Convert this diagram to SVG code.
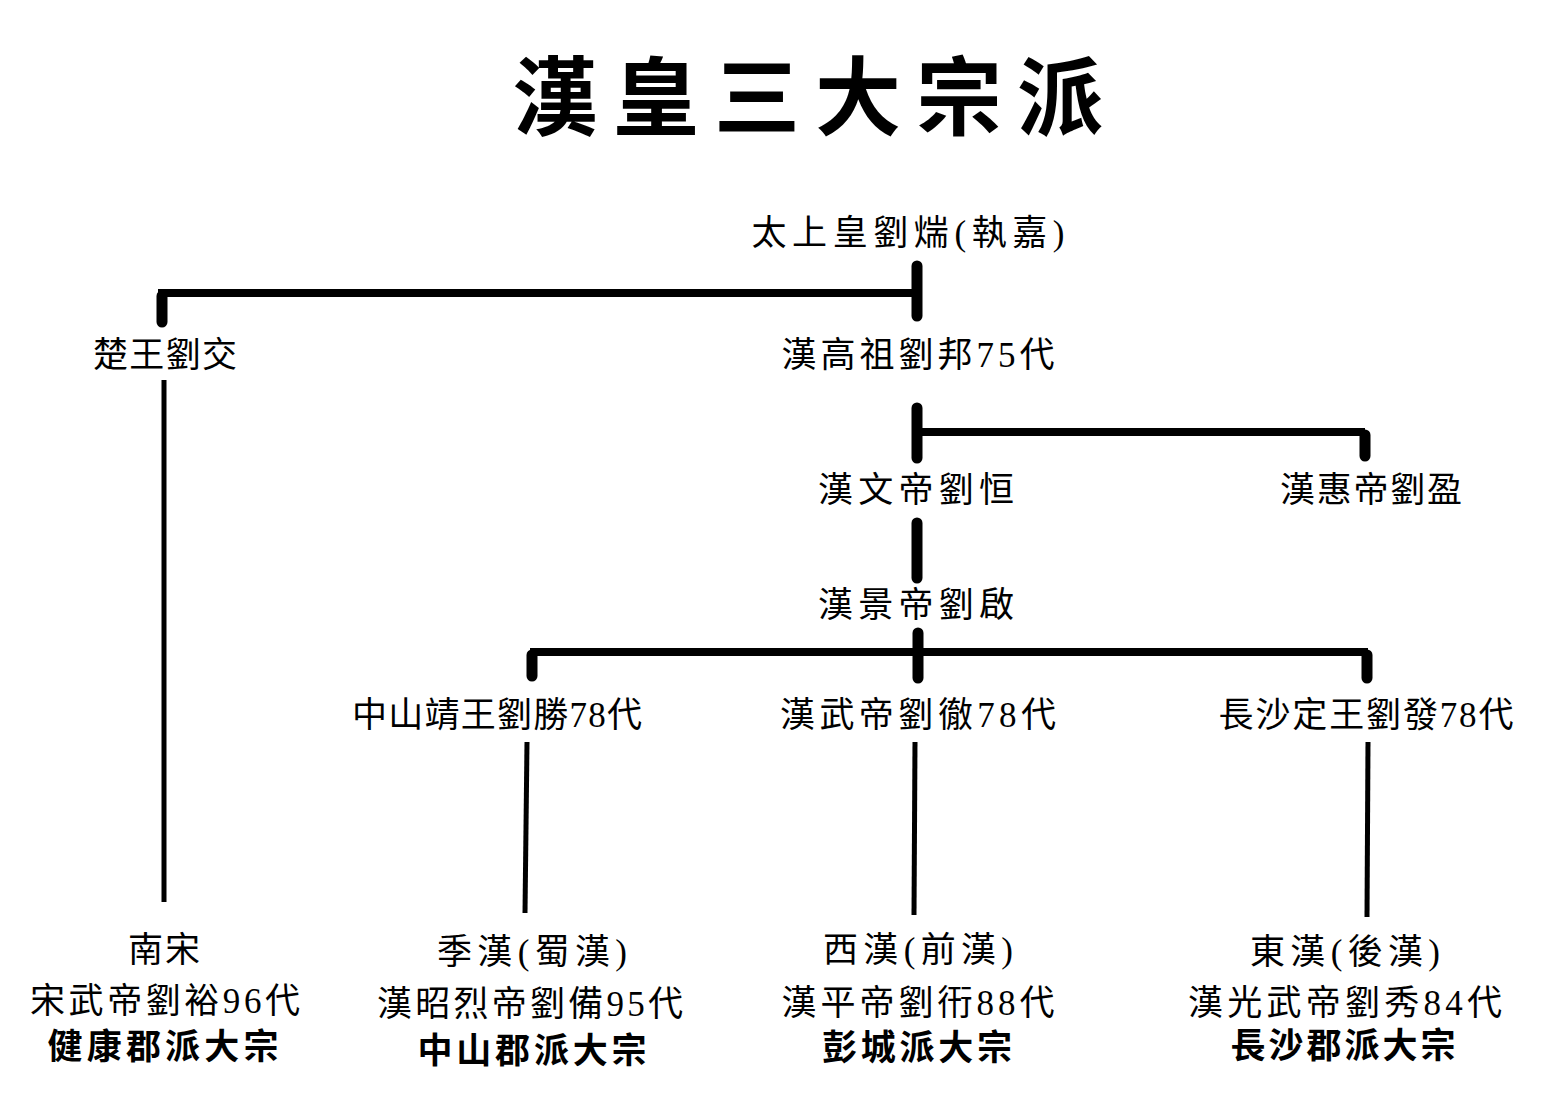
<svg xmlns="http://www.w3.org/2000/svg" width="1546" height="1094" viewBox="0 0 1546 1094">
<style>
text{font-family:"Liberation Serif","Noto Sans CJK TC",serif;fill:#000;text-anchor:middle}
.t{font-size:35px}
.b{font-size:35px;font-weight:700}
.title{font-family:"Noto Sans CJK TC",sans-serif;font-size:86px;font-weight:700;letter-spacing:15px}
.thick{stroke:#000;stroke-width:11;stroke-linecap:round;fill:none}
.bar{stroke:#000;stroke-width:8;fill:none}
.thin{stroke:#000;stroke-width:5;fill:none}
</style>
<rect width="1546" height="1094" fill="#fff"/>
<text class="title" x="815" y="129">漢皇三大宗派</text>
<g id="connectors">
<path class="bar" d="M158 293H917"/>
<path class="thick" d="M162 296V322"/>
<path class="thick" d="M917 266V316"/>
<path class="thin" d="M164 380V902"/>
<path class="thick" d="M917 408V458"/>
<path class="bar" d="M917 432H1365"/>
<path class="thick" d="M1365 435V456"/>
<path class="thick" d="M917 523V578"/>
<path class="thick" d="M918 633V678"/>
<path class="bar" d="M530 652H1368"/>
<path class="thick" d="M532 655V676"/>
<path class="thick" d="M1367 655V678"/>
<path class="thin" d="M527 742L525 913"/>
<path class="thin" d="M915 742L914 915"/>
<path class="thin" d="M1368 742L1367 917"/>
</g>
<g id="n-taishanghuang"><text class="t" x="908" y="245" textLength="313" lengthAdjust="spacing">太上皇劉煓(執嘉)</text></g>
<g id="n-chuwang"><text class="t" x="165" y="367" textLength="144" lengthAdjust="spacing">楚王劉交</text></g>
<g id="n-gaozu"><text class="t" x="918" y="367" textLength="273" lengthAdjust="spacing">漢高祖劉邦75代</text></g>
<g id="n-wendi"><text class="t" x="916" y="502" textLength="196" lengthAdjust="spacing">漢文帝劉恒</text></g>
<g id="n-huidi"><text class="t" x="1371" y="502" textLength="182" lengthAdjust="spacing">漢惠帝劉盈</text></g>
<g id="n-jingdi"><text class="t" x="916" y="617" textLength="196" lengthAdjust="spacing">漢景帝劉啟</text></g>
<g id="n-zhongshan"><text class="t" x="497" y="727" textLength="290" lengthAdjust="spacing">中山靖王劉勝78代</text></g>
<g id="n-wudi"><text class="t" x="918" y="727" textLength="276" lengthAdjust="spacing">漢武帝劉徹78代</text></g>
<g id="n-changsha"><text class="t" x="1366" y="727" textLength="295" lengthAdjust="spacing">長沙定王劉發78代</text></g>
<g id="n-nansong">
<text class="t" x="164" y="962" textLength="72" lengthAdjust="spacing">南宋</text>
<text class="t" x="165" y="1013" textLength="270" lengthAdjust="spacing">宋武帝劉裕96代</text>
<text class="b" x="163" y="1059" textLength="231" lengthAdjust="spacing">健康郡派大宗</text>
</g>
<g id="n-jihan">
<text class="t" x="532" y="964" textLength="190" lengthAdjust="spacing">季漢(蜀漢)</text>
<text class="t" x="530" y="1016" textLength="306" lengthAdjust="spacing">漢昭烈帝劉備95代</text>
<text class="b" x="532" y="1063" textLength="229" lengthAdjust="spacing">中山郡派大宗</text>
</g>
<g id="n-xihan">
<text class="t" x="918" y="962" textLength="190" lengthAdjust="spacing">西漢(前漢)</text>
<text class="t" x="918" y="1015" textLength="273" lengthAdjust="spacing">漢平帝劉衎88代</text>
<text class="b" x="917" y="1060" textLength="190" lengthAdjust="spacing">彭城派大宗</text>
</g>
<g id="n-donghan">
<text class="t" x="1345" y="964" textLength="190" lengthAdjust="spacing">東漢(後漢)</text>
<text class="t" x="1345" y="1015" textLength="314" lengthAdjust="spacing">漢光武帝劉秀84代</text>
<text class="b" x="1343" y="1058" textLength="225" lengthAdjust="spacing">長沙郡派大宗</text>
</g>
</svg>
